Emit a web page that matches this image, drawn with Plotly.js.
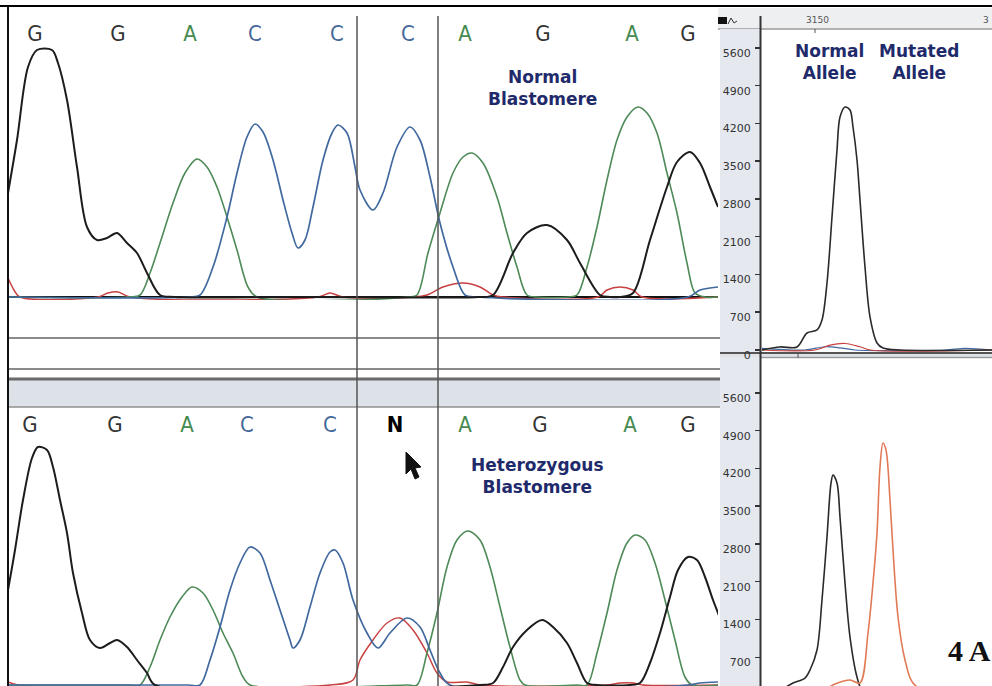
<!DOCTYPE html>
<html>
<head>
<meta charset="utf-8">
<script src="https://cdn.plot.ly/plotly-3.0.1.min.js"></script>
<style>
html,body{margin:0;padding:0;background:#fff;overflow:hidden;}
#chart{width:992px;height:686px;}
</style>
</head>
<body>
<div id="chart"></div>
<script>
// ---------------- DATA ----------------
// Base calls
const topBases = ['G','G','A','C','C','C','A','G','A','G'];
const topBaseScan = [27,110,182,247,329,400,457,535,624,680];
const bottomBases = ['G','G','A','C','C','<b>N</b>','A','G','A','G'];
const bottomBaseScan = [22,107,179,239,322,387,457,532,622,680];

// Normal blastomere trace (scan, signal)
const topScanG = [0,9,20,29,44,50,59,69,79,89,99,109,119,129,139,152,167,300,470,485,505,519,539,559,572,592,602,612,625,642,659,669,682,692,702,710];
const topSignalG = [2080,3140,4600,4940,4940,4680,3940,2600,1400,1140,1180,1280,1080,880,480,40,0,0,0,40,880,1280,1440,1140,680,40,0,0,80,1140,2200,2700,2900,2680,2200,1800];
const topScanA = [0,120,132,142,152,165,177,189,199,209,219,229,240,249,400,409,420,432,445,455,464,475,489,499,509,519,530,560,569,579,589,599,609,619,630,639,649,659,669,679,687,697,710];
const topSignalA = [0,0,40,480,1080,1880,2480,2760,2600,2200,1600,940,200,0,0,40,880,1680,2480,2800,2880,2680,2000,1280,600,40,0,0,40,600,1400,2340,3140,3600,3800,3680,3280,2480,1680,680,80,0,0];
const topScanC = [0,180,192,205,219,229,239,247,255,265,275,284,290,297,305,315,324,330,339,347,352,365,375,389,402,412,422,432,445,457,470,680,692,710];
const topSignalC = [0,0,40,600,1600,2480,3200,3460,3300,2740,1940,1280,980,1140,1800,2740,3280,3440,3280,2600,2140,1740,2080,3000,3400,3140,2400,1480,600,40,0,0,140,200];
const topScanT = [0,6,12,90,100,110,122,310,322,335,405,419,435,455,472,485,495,590,599,612,625,634,710];
const topSignalT = [380,140,0,0,80,100,0,0,80,0,0,40,200,280,200,40,0,0,140,200,140,0,0];

// Heterozygous blastomere trace (scan, signal)
const botScanG = [0,7,15,24,30,39,45,52,59,65,74,82,92,102,109,119,129,139,147,472,485,495,505,519,534,545,559,569,579,589,622,632,642,652,662,670,680,689,697,705,712];
const botSignalG = [1900,2700,3700,4540,4760,4700,4360,3700,3040,2240,1440,900,740,840,900,760,500,240,0,0,40,360,760,1100,1300,1160,840,440,40,0,0,40,440,1040,1760,2300,2560,2500,2160,1700,1340];
const botScanA = [0,120,132,142,152,162,174,184,195,205,215,225,235,242,400,409,419,429,439,449,460,472,482,492,502,512,517,570,579,589,599,609,619,627,637,647,657,667,677,684,710];
const botSignalA = [0,0,0,360,900,1360,1760,1960,1840,1500,1040,640,160,0,0,0,640,1440,2360,2900,3080,2900,2360,1560,760,100,0,0,0,640,1440,2300,2840,3000,2900,2440,1700,900,160,0,0];
const botScanC = [0,180,192,202,212,222,232,242,252,262,272,282,285,292,302,312,322,327,335,345,359,370,382,399,412,422,432,442,680,692,710];
const botSignalC = [0,0,0,500,1160,1900,2440,2760,2640,2100,1500,900,740,900,1560,2240,2660,2700,2440,1700,1040,740,1040,1340,1160,700,240,0,0,40,60];
const botScanT = [0,10,322,345,352,365,379,392,405,419,429,439,459,472,600,612,625,635,710];
const botSignalT = [60,0,0,100,500,900,1240,1340,1100,640,240,60,60,0,0,40,40,0,0];

// Allele zoom panels (scan, signal)
const alleleTicks = [0,700,1400,2100,2800,3500,4200,4900,5600];
const normScanG = [3097,3115,3132,3142,3152,3157,3162,3167,3172,3175,3180,3185,3188,3192,3195,3200,3205,3212,3218,3235,3327];
const normSignalG = [0,56,56,315,371,556,1242,2466,3708,4320,4505,4450,4134,3522,2781,1539,612,130,37,0,0];
const normScanT = [3097,3150,3165,3180,3195,3205,3327];
const normSignalT = [0,0,90,120,60,0,0];
const normScanC = [3097,3140,3160,3175,3190,3280,3300,3327];
const normSignalC = [30,0,60,40,0,0,30,0];
const hetScanG = [3097,3115,3128,3140,3145,3152,3157,3162,3166,3168,3172,3175,3180,3185,3192,3197,3210,3327];
const hetSignalG = [0,93,222,315,464,834,1761,2929,3930,4079,3930,3300,2077,1075,334,93,0,0];
const hetScanT = [3097,3155,3170,3185,3195,3203,3208,3212,3215,3218,3221,3225,3228,3233,3240,3248,3270,3327];
const hetSignalT = [0,56,204,278,222,1150,2076,3003,4227,4672,4542,3615,2688,1446,649,222,0,0];

// ---------------- LAYOUT HELPERS ----------------
const W = 992, H = 686;
const X = v => v / W;
const Y = v => 1 - v / H;
const shapes = [];
function hline(y, x0, x1, color, width, layer) {
  shapes.push({type:'line', xref:'paper', yref:'paper', x0:X(x0), x1:X(x1), y0:Y(y), y1:Y(y),
    line:{color:color, width:width}, layer:layer||'below'});
}
function vline(x, y0, y1, color, width, layer) {
  shapes.push({type:'line', xref:'paper', yref:'paper', x0:X(x), x1:X(x), y0:Y(y0), y1:Y(y1),
    line:{color:color, width:width}, layer:layer||'above'});
}
function rect(x0, y0, x1, y1, fill, layer) {
  shapes.push({type:'rect', xref:'paper', yref:'paper', x0:X(x0), x1:X(x1), y0:Y(y1), y1:Y(y0),
    fillcolor:fill, line:{width:0}, layer:layer||'below'});
}

// backgrounds / frame
rect(718, 8, 992, 29, '#eeeff1');
hline(29, 718, 992, '#9a9a9a', 1.5);
rect(720, 29, 760, 686, '#e5e9ef');
rect(8, 379, 720, 407, '#dde2e8');
hline(338, 8, 720, '#8a8a8a', 2);
hline(369, 8, 720, '#8a8a8a', 2);
hline(379, 8, 720, '#6a6a6a', 3);
hline(407, 8, 720, '#8f8f8f', 1.5);
rect(720, 353, 992, 357, '#dfe3e8');
hline(353, 720, 992, '#555', 2);
hline(357.5, 760, 992, '#9a9a9a', 1.5);
hline(6, 0, 992, '#000', 2, 'above');
vline(8, 6, 686, '#111', 2);
vline(760.5, 16, 686, '#333', 2);
vline(357, 16, 686, '#555', 1.5);
vline(438, 16, 686, '#555', 1.5);
// small header widgets
rect(718, 17, 727, 24, '#111', 'above');
shapes.push({type:'path', xref:'paper', yref:'paper', layer:'above',
  path:`M ${X(728)} ${Y(24)} L ${X(731)} ${Y(18)} L ${X(734)} ${Y(23)} L ${X(737)} ${Y(21)}`,
  line:{color:'#333', width:1}});
vline(815, 29, 33, '#555', 1);
vline(798, 353, 358, '#555', 1);
// mouse pointer
const cur = [[406,452],[406,474],[411,469],[415,479],[419,477],[415,468],[421,467]];
shapes.push({type:'path', xref:'paper', yref:'paper', layer:'above',
  path:'M ' + cur.map(p => X(p[0]) + ' ' + Y(p[1])).join(' L ') + ' Z',
  fillcolor:'#111', line:{color:'#111', width:1}});

// ---------------- TRACES ----------------
const COL = {G:'#1c1c1c', A:'#4d8a57', C:'#41699f', T:'#c84040', O:'#e07a55'};
function line(x, y, color, w, xa, ya) {
  return {type:'scatter', mode:'lines', x:x, y:y, xaxis:xa, yaxis:ya,
    line:{color:color, width:w, shape:'spline', smoothing:0.9}, hoverinfo:'skip', showlegend:false};
}
const baseColor = b => b.indexOf('N') >= 0 ? '#000' : (b === 'G' ? '#333333' : b === 'A' ? '#468a50' : '#46699a');
function letters(bases, scans, level, xa, ya) {
  return {type:'scatter', mode:'text', x:scans, y:scans.map(() => level), text:bases,
    xaxis:xa, yaxis:ya, cliponaxis:false, hoverinfo:'skip', showlegend:false,
    textfont:{family:'DejaVu Sans Condensed, DejaVu Sans, sans-serif', size:22, color:bases.map(baseColor)}};
}

const data = [
  line(topScanT, topSignalT, COL.T, 1.5, 'x', 'y'),
  line(topScanA, topSignalA, COL.A, 1.6, 'x', 'y'),
  line(topScanC, topSignalC, COL.C, 1.7, 'x', 'y'),
  line(topScanG, topSignalG, COL.G, 2, 'x', 'y'),
  letters(topBases, topBaseScan, 5240, 'x', 'y'),
  line(botScanT, botSignalT, COL.T, 1.5, 'x2', 'y2'),
  line(botScanA, botSignalA, COL.A, 1.6, 'x2', 'y2'),
  line(botScanC, botSignalC, COL.C, 1.7, 'x2', 'y2'),
  line(botScanG, botSignalG, COL.G, 2, 'x2', 'y2'),
  letters(bottomBases, bottomBaseScan, 5180, 'x2', 'y2'),
  line(normScanC, normSignalC, COL.C, 1.2, 'x3', 'y3'),
  line(normScanT, normSignalT, COL.T, 1.2, 'x3', 'y3'),
  line(normScanG, normSignalG, '#2a2a2a', 1.6, 'x3', 'y3'),
  line(hetScanG, hetSignalG, '#2a2a2a', 1.6, 'x4', 'y4'),
  line(hetScanT, hetSignalT, COL.O, 1.6, 'x4', 'y4')
];

const hidden = {showgrid:false, zeroline:false, showticklabels:false, showline:false, ticks:''};
const alleleY = {showgrid:false, zeroline:false, showline:false, ticks:'outside', ticklen:5, tickwidth:1.5,
  tickcolor:'#333', tickvals:alleleTicks, ticktext:alleleTicks.map(String),
  tickfont:{family:'DejaVu Sans, sans-serif', size:11, color:'#333'}, ticklabelshift:5, ticklabelstandoff:2};

const titleFont = {family:'DejaVu Sans, sans-serif', size:17, color:'#1f2a6b', weight:'bold'};
function note(x, y, text, font, xanchor) {
  return {xref:'paper', yref:'paper', x:X(x), y:Y(y), text:text, showarrow:false, font:font,
    align:'center', xanchor:xanchor||'center', yanchor:'middle'};
}
const smallFont = {family:'DejaVu Sans, sans-serif', size:9, color:'#555'};
const annotations = [
  note(542, 88, '<b>Normal<br>Blastomere</b>', titleFont),
  note(537, 476, '<b>Heterozygous<br>Blastomere</b>', titleFont),
  note(829, 62, '<b>Normal<br>Allele</b>', titleFont),
  note(919, 62, '<b>Mutated<br>Allele</b>', titleFont),
  note(817, 20, '3150', smallFont),
  note(981, 20, '3', smallFont, 'left'),
  note(946, 650, '<b>4 A</b>', {family:'Liberation Serif, DejaVu Serif, serif', size:30, color:'#111'}, 'left')
];

const layout = {
  width:W, height:H, margin:{l:0, r:0, t:0, b:0},
  paper_bgcolor:'#ffffff', plot_bgcolor:'rgba(0,0,0,0)', showlegend:false,
  xaxis:Object.assign({}, hidden, {domain:[X(8), X(718)], range:[0,710], anchor:'y'}),
  yaxis:Object.assign({}, hidden, {domain:[Y(300), Y(15)], range:[-60,5640], anchor:'x',
    zeroline:true, zerolinecolor:'#111', zerolinewidth:2}),
  xaxis2:Object.assign({}, hidden, {domain:[X(8), X(718)], range:[0,710], anchor:'y2'}),
  yaxis2:Object.assign({}, hidden, {domain:[0, Y(407)], range:[-20,5560], anchor:'x2'}),
  xaxis3:Object.assign({}, hidden, {domain:[X(761), 1], range:[3096,3327], anchor:'y3'}),
  yaxis3:Object.assign({}, alleleY, {domain:[Y(353), Y(29)], range:[-56,5951], anchor:'x3'}),
  xaxis4:Object.assign({}, hidden, {domain:[X(761), 1], range:[3096,3327], anchor:'y4'}),
  yaxis4:Object.assign({}, alleleY, {domain:[0, Y(358)], range:[167,6248], anchor:'x4'}),
  shapes:shapes, annotations:annotations
};

Plotly.newPlot('chart', data, layout, {staticPlot:true, displayModeBar:false});
</script>
</body>
</html>
